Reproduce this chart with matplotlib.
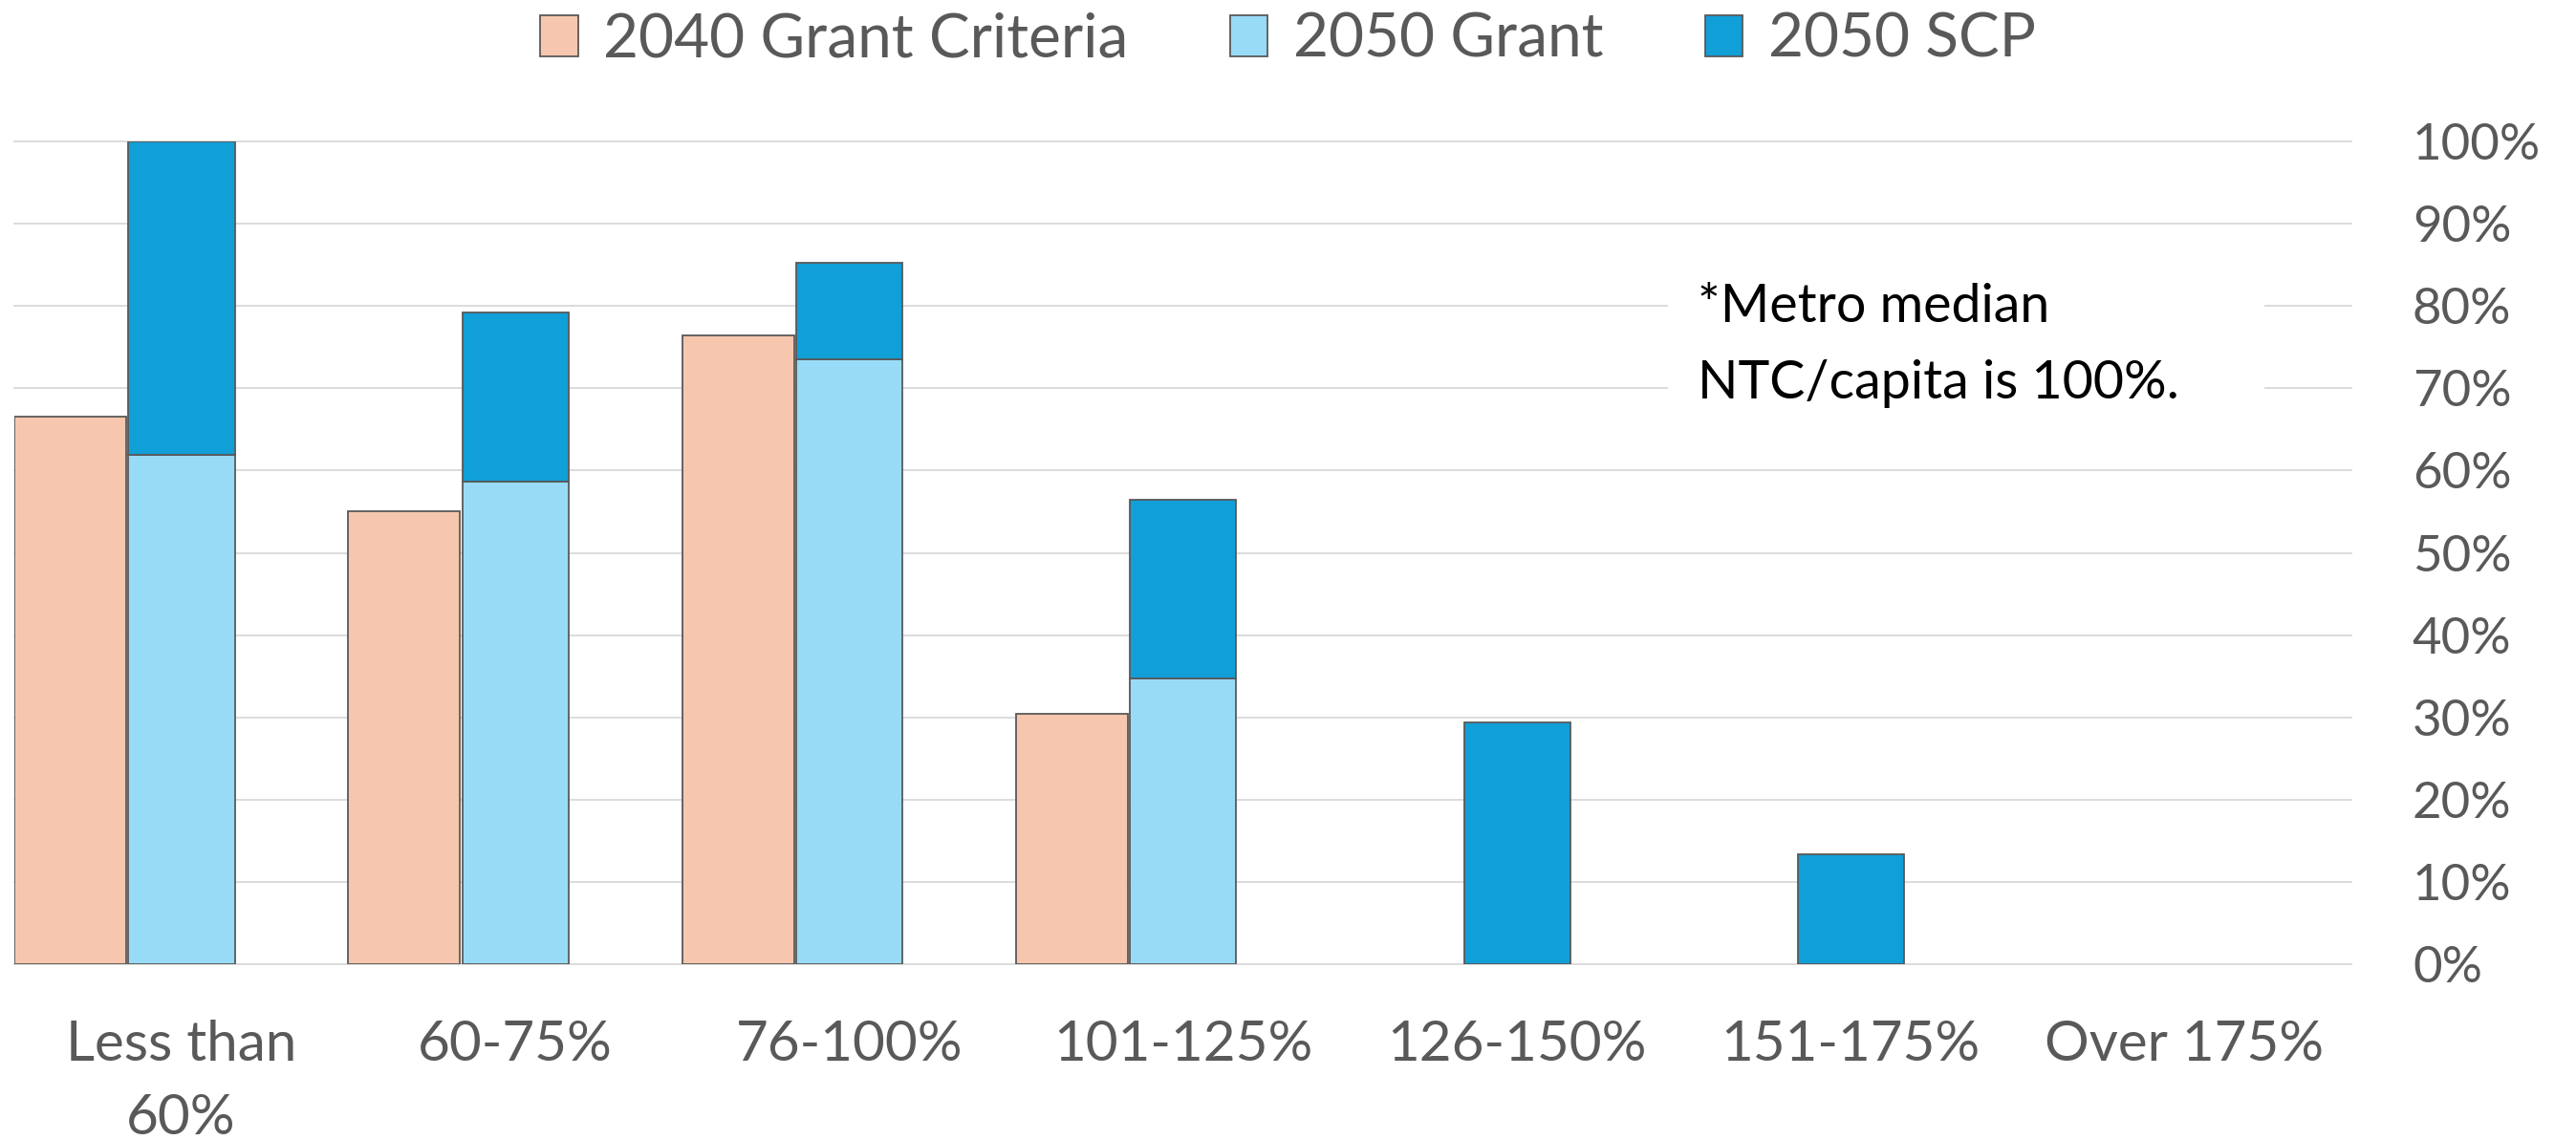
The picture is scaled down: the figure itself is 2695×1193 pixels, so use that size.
import numpy as np
import matplotlib
matplotlib.use("Agg")
from matplotlib import pyplot as plt
from matplotlib.patches import Rectangle, Patch

# data
categories = ["Less than\n60%", "60-75%", "76-100%", "101-125%", "126-150%", "151-175%", "Over 175%"]
grant_2040 = [0.666, 0.551, 0.764, 0.304, 0.0, 0.0, 0.0]
grant_2050 = [0.619, 0.586, 0.735, 0.347, 0.0, 0.0, 0.0]
scp_2050 = [0.381, 0.206, 0.118, 0.218, 0.294, 0.133, 0.0]   # stacked on top of 2050 Grant
series_names = ["2040 Grant Criteria", "2050 Grant", "2050 SCP"]
note = "*Metro median\nNTC/capita is 100%."

c_peach = "#F6C7AE"
c_light = "#98DBF7"
c_dark = "#109FD7"
edge = "#595959"
grey_txt = "#595959"
font = "Lato"

W, H = 2695, 1193
fig = plt.figure(figsize=(W / 100, H / 100), dpi=100)
ax = fig.add_axes([15 / W, 1 - 1009 / H, 2445 / W, 861 / H])

x = np.arange(len(categories))
g40 = np.array(grant_2040)
g50 = np.array(grant_2050)
scp = np.array(scp_2050)

m = g40 > 0
ax.bar(x[m] - 0.3325, g40[m], width=0.335, color=c_peach, edgecolor=edge, linewidth=1.3, zorder=3)
m = g50 > 0
ax.bar(x[m] + 0.001, g50[m], width=0.318, color=c_light, edgecolor=edge, linewidth=1.3, zorder=3)
m = scp > 0
ax.bar(x[m] + 0.001, scp[m], width=0.318, bottom=g50[m], color=c_dark, edgecolor=edge, linewidth=1.3, zorder=3)

ax.set_xlim(-0.5, len(categories) - 0.5)
ax.set_ylim(0, 1.0)
ax.set_yticks(np.arange(0, 1.01, 0.1))
ax.set_yticklabels([f"{v:.0%}" for v in np.arange(0, 1.01, 0.1)])
ax.yaxis.tick_right()
ax.yaxis.grid(True, color="#d9d9d9", linewidth=1.3, clip_on=False)
ax.set_axisbelow(True)
for s in ax.spines.values():
    s.set_visible(False)
ax.tick_params(axis="y", length=0, pad=46, labelsize=38, labelcolor=grey_txt)
ax.tick_params(axis="x", length=0, pad=42, labelsize=42, labelcolor=grey_txt)
ax.set_xticks(x)
ax.set_xticklabels(categories)
for lab in ax.get_xticklabels() + ax.get_yticklabels():
    lab.set_fontfamily(font)
for lab in ax.get_xticklabels():
    lab.set_linespacing(1.55)

# note with white box hiding the gridlines
ax.add_patch(Rectangle((4.453, 0.64), 1.786, 0.22, facecolor="white", edgecolor="none", zorder=2))
ax.text(4.541, 0.752, note, ha="left", va="center", fontsize=40, color="black",
        family=font, linespacing=1.7, zorder=4)

handles = [Patch(facecolor=c, edgecolor=edge, linewidth=1.3) for c in (c_peach, c_light, c_dark)]
leg = fig.legend(handles, series_names, loc="center", bbox_to_anchor=(0.5, 1 - 42 / H), ncol=3,
                 frameon=False, prop={"family": font, "size": 46}, handlelength=0.62,
                 handleheight=0.65, handletextpad=0.42, columnspacing=1.66)
for t in leg.get_texts():
    t.set_color(grey_txt)

fig.savefig("out.png", dpi=100)
